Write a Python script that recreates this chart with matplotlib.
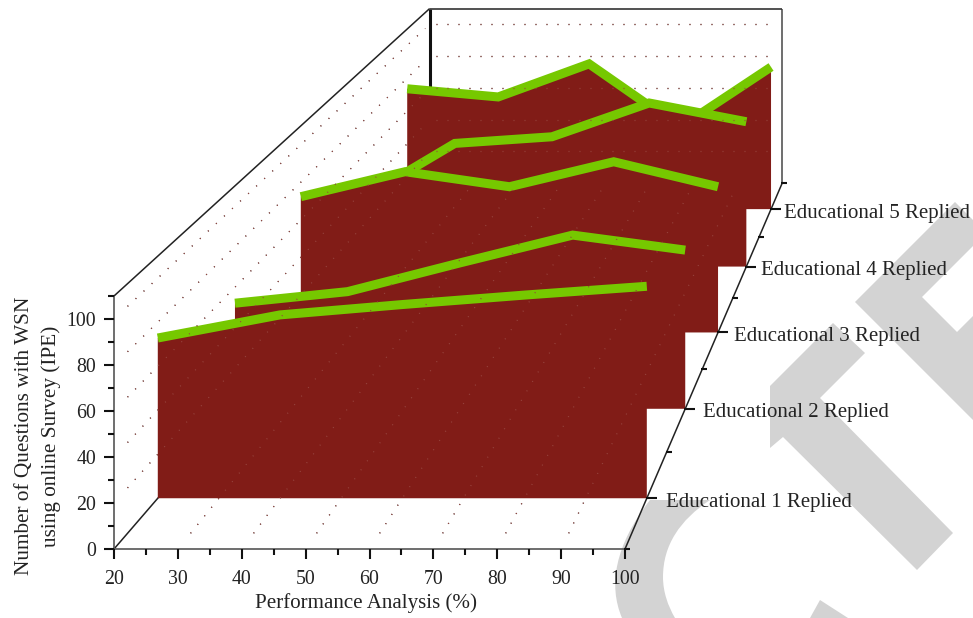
import numpy as np
import matplotlib
matplotlib.use("Agg")
import matplotlib.pyplot as plt
from matplotlib.patches import Polygon, PathPatch
from matplotlib.path import Path

plt.rcParams["font.family"] = ["Liberation Serif", "DejaVu Serif"]

# ---- data -------------------------------------------------------------
performance = [20, 40, 60, 80, 100]
replied_1 = [72.8, 83.3, 88.0, 92.3, 96.3]
replied_2 = [52.1, 57.8, 72.0, 85.7, 78.3]
replied_3 = [72.3, 85.6, 77.6, 90.9, 77.6]
replied_4 = [37.4, 70.4, 74.2, 93.5, 82.8]
replied_5 = [73.5, 68.5, 88.7, 50.0, 86.8]
series_labels = ["Educational 1 Replied", "Educational 2 Replied", "Educational 3 Replied",
                 "Educational 4 Replied", "Educational 5 Replied"]
x_ticks = [20, 30, 40, 50, 60, 70, 80, 90, 100]
y_ticks = [0, 20, 40, 60, 80, 100]
x_label = "Performance Analysis (%)"
y_label = "Number of Questions with WSN\nusing online Survey (IPE)"

# ---- perspective box --------------------------------------------------
X_MIN, X_MAX, Y_MIN, Y_MAX, Z_MIN, Z_MAX = 20, 100, 0, 110, 0.5, 5.5
LEFT, RIGHT, BOTTOM, TOP = 114.0, 625.0, 549.0, 296.0
VANISH_X, VANISH_Y = 1132.0, -631.0
DEPTH_STEP = 0.0899


def depth_scale(z):
    return 1 / (1 + DEPTH_STEP * (z - Z_MIN))


def project(x, z, y):
    """Map (performance, series depth, questions) to canvas coordinates."""
    x, z, y = np.asarray(x, float), np.asarray(z, float), np.asarray(y, float)
    front_x = LEFT + (x - X_MIN) / (X_MAX - X_MIN) * (RIGHT - LEFT)
    front_y = BOTTOM + (y - Y_MIN) / (Y_MAX - Y_MIN) * (TOP - BOTTOM)
    scale = depth_scale(z)
    return VANISH_X + (front_x - VANISH_X) * scale, VANISH_Y + (front_y - VANISH_Y) * scale


def edge(ax, p, q, **kw):
    """Straight line between two box coordinates."""
    a, b = project(*p), project(*q)
    ax.plot([a[0], b[0]], [a[1], b[1]], solid_capstyle="butt", **kw)


fig = plt.figure(figsize=(9.73, 6.18), dpi=100, facecolor="white")
ax = fig.add_axes([0, 0, 1, 1])
ax.set_xlim(0, 973)
ax.set_ylim(618, 0)
ax.axis("off")

# ---- pale diagonal backdrop ---------------------------------------------
GREY = "#d3d3d3"
backdrop_shapes = [
    [(855, 302), (955, 202), (973, 220), (973, 246), (922, 297), (957, 332), (973, 316), (973, 420)],
    [(770, 386), (833, 323), (865, 353), (820, 398), (953, 533), (917, 570), (783, 437), (770, 448)],
    [(820, 600), (848, 618), (810, 618)],
]
for shape in backdrop_shapes:
    ax.add_patch(Polygon(shape, closed=True, fc=GREY, ec="none", zorder=0))
arc_vertices = [(622, 618), (608, 585), (615, 545), (650, 500),
                (710, 500), (680, 520), (663, 545), (663, 577),
                (663, 592), (668, 606), (675, 618), (622, 618)]
arc_codes = [Path.MOVETO, Path.CURVE4, Path.CURVE4, Path.CURVE4,
             Path.LINETO, Path.CURVE4, Path.CURVE4, Path.CURVE4,
             Path.CURVE4, Path.CURVE4, Path.CURVE4, Path.CLOSEPOLY]
ax.add_patch(PathPatch(Path(arc_vertices, arc_codes), fc=GREY, ec="none", zorder=0))

# ---- dotted grid ---------------------------------------------------------
DOTS = (0, (0.8, 8.0))


def draw_grid(color, zorder):
    style = dict(color=color, lw=0.9, linestyle=DOTS, zorder=zorder)
    for y in y_ticks[1:]:
        a = project(X_MIN, Z_MIN + 0.15, y)
        b = project(X_MIN, Z_MAX - 0.1, y)
        ax.plot([a[0], b[0]], [a[1], b[1]], **style)
        a = project(X_MIN + 1.5, Z_MAX, y)
        b = project(X_MAX - 1.5, Z_MAX, y)
        ax.plot([a[0], b[0]], [a[1], b[1]], **style)
    for x in x_ticks[1:-1]:
        a = project(x, Z_MIN + 0.15, 0)
        b = project(x, Z_MAX - 0.1, 0)
        ax.plot([a[0], b[0]], [a[1], b[1]], **style)


draw_grid("#444444", 1)

# ---- box frame -----------------------------------------------------------
edge(ax, (X_MIN, Z_MAX, Y_MIN), (X_MIN, Z_MAX, Y_MAX), color="#111111", lw=2.2, zorder=2)
edge(ax, (X_MAX, Z_MAX, Y_MIN), (X_MAX, Z_MAX, Y_MAX), color="#555555", lw=1.2, zorder=2)
edge(ax, (X_MIN, Z_MAX, Y_MAX), (X_MAX, Z_MAX, Y_MAX), color="#333333", lw=1.2, zorder=2)
edge(ax, (X_MIN, Z_MIN, Y_MAX), (X_MIN, Z_MAX, Y_MAX), color="#222222", lw=1.1, zorder=2)
edge(ax, (X_MIN, Z_MIN, Y_MIN), (X_MIN, Z_MAX, Y_MIN), color="#222222", lw=1.1, zorder=2)
edge(ax, (X_MAX, Z_MIN, Y_MIN), (X_MAX, Z_MAX, Y_MIN), color="#222222", lw=1.1, zorder=6)
edge(ax, (X_MIN, Z_MIN, Y_MIN), (X_MAX, Z_MIN, Y_MIN), color="#555555", lw=1.2, zorder=6)
edge(ax, (X_MIN, Z_MIN, Y_MIN), (X_MIN, Z_MIN, Y_MAX), color="#555555", lw=1.2, zorder=6)

# ---- filled series, back to front -----------------------------------------
all_series = [replied_1, replied_2, replied_3, replied_4, replied_5]
for depth in range(5, 0, -1):
    values = all_series[depth - 1]
    z = np.full(len(performance), depth, float)
    px, py = project(performance, z, values)
    bx, by = project(performance, z, np.zeros(len(performance)))
    outline = list(zip(px, py)) + list(zip(bx[::-1], by[::-1]))
    order = 3 + (5 - depth) * 0.1
    ax.add_patch(Polygon(outline, closed=True, fc="#811c17", ec="none", zorder=order))
    ax.plot(px, py, color="#76c800", lw=6.5, solid_capstyle="butt",
            solid_joinstyle="miter", zorder=order + 0.05)

draw_grid("#96443e", 5)

# ---- ticks and labels -----------------------------------------------------
TICK = "#111111"
for v in range(20, 101, 5):
    major = v % 10 == 0
    x0, y0 = project(v, Z_MIN, 0)
    ax.plot([x0, x0], [y0, y0 + (10 if major else 6)], color=TICK, lw=1.5, solid_capstyle="butt", zorder=7)
for v in range(0, 111, 10):
    major = v % 20 == 0
    x0, y0 = project(X_MIN, Z_MIN, v)
    ax.plot([x0 - (10 if major else 6), x0], [y0, y0], color=TICK, lw=1.5, solid_capstyle="butt", zorder=7)
for z in np.arange(0.5, 5.6, 0.5):
    major = float(z).is_integer()
    x0, y0 = project(X_MAX, z, 0)
    ax.plot([x0 - 1, x0 + (10 if major else 5)], [y0, y0], color=TICK, lw=1.5, solid_capstyle="butt", zorder=7)

TEXT = "#232323"
for v in x_ticks:
    x0, y0 = project(v, Z_MIN, 0)
    ax.text(x0, y0 + 30, str(v), ha="center", va="center", fontsize=14.3, color=TEXT, zorder=8)
for v in y_ticks:
    x0, y0 = project(X_MIN, Z_MIN, v)
    ax.text(x0 - 18, y0 + 2, str(v), ha="right", va="center", fontsize=14.3, color=TEXT, zorder=8)
for depth, label in enumerate(series_labels, start=1):
    x0, y0 = project(X_MAX, depth, 0)
    ax.text(x0 - 3 + 23 * depth_scale(depth), y0 + 4, label, ha="left", va="center",
            fontsize=15.0, color=TEXT, zorder=8)

ax.text(366, 603, x_label, ha="center", va="center", fontsize=15.1, color=TEXT, zorder=8)
ax.text(38, 436, y_label, ha="center", va="center", rotation=90, fontsize=15.3,
        linespacing=1.5, multialignment="center", color=TEXT, zorder=8)

fig.savefig("out.png", dpi=100)
